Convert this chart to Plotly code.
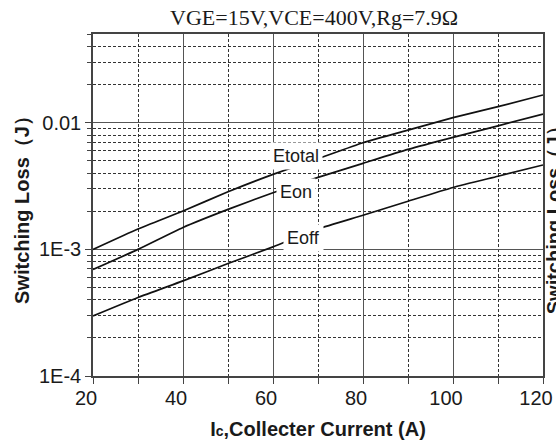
import plotly.graph_objects as go

# Collector current (A) and switching energies (J)
current = [20, 30, 40, 50, 60, 70, 80, 90, 100, 110, 120]
e_total = [1.0e-3, 1.45e-3, 2.01e-3, 2.85e-3, 3.91e-3, 5.2e-3, 6.95e-3, 8.75e-3, 1.096e-2, 1.34e-2, 1.656e-2]
e_on = [6.93e-4, 1.0e-3, 1.49e-3, 2.07e-3, 2.80e-3, 3.70e-3, 4.78e-3, 6.16e-3, 7.67e-3, 9.45e-3, 1.172e-2]
e_off = [2.98e-4, 4.17e-4, 5.64e-4, 7.73e-4, 1.047e-3, 1.45e-3, 1.86e-3, 2.40e-3, 3.08e-3, 3.78e-3, 4.64e-3]

x_major = [20, 40, 60, 80, 100, 120]
x_major_text = ["20", "40", "60", "80", "100", "120"]
x_minor = [30, 50, 70, 90, 110]
y_major = [1e-4, 1e-3, 1e-2]
y_major_text = ["1E-4", "1E-3", "0.01"]
y_minor = [m * d for d in (1e-4, 1e-3) for m in range(2, 10)] + [2e-2, 3e-2, 4e-2, 5e-2]

title_text = "VGE=15V,VCE=400V,Rg=7.9Ω"
x_title = "<b>I<span style='font-size:14px'>c</span>,Collecter Current (A)</b>"
y_title = "<b>Switching Loss（J）</b>"

SANS = "Liberation Sans, Arial, sans-serif"
SERIF = "Liberation Serif, Times New Roman, serif"
INK = "#1a1a1a"

fig = go.Figure()
for name, vals in (("Etotal", e_total), ("Eon", e_on), ("Eoff", e_off)):
    fig.add_trace(go.Scatter(
        x=current, y=vals, mode="lines", name=name,
        line=dict(color="#111111", width=1.7, shape="spline", smoothing=0.5),
        showlegend=False,
    ))

# curve labels sit on white boxes that interrupt the lines
labels = [("Etotal", 65.1, -2.263), ("Eon", 65.0, -2.548), ("Eoff", 66.7, -2.911)]
for txt, lx, ly in labels:
    fig.add_annotation(
        x=lx, y=ly, text=txt, showarrow=False,
        font=dict(family=SANS, size=18, color=INK),
        bgcolor="white", borderpad=3,
    )

fig.update_layout(
    width=556, height=443,
    margin=dict(l=93, r=13, t=34, b=67, autoexpand=False),
    paper_bgcolor="white", plot_bgcolor="white",
    title=dict(text=title_text, x=0.565, xanchor="center", y=0.962, yanchor="middle",
               font=dict(family=SERIF, size=22, color=INK)),
)

fig.update_xaxes(
    range=[20, 120], automargin=False,
    tickmode="array", tickvals=x_major, ticktext=x_major_text,
    tickfont=dict(family=SANS, size=20, color=INK),
    ticklabelshift=-7, ticklabelstandoff=-3, ticklabeloverflow="allow",
    ticks="outside", ticklen=6, tickcolor="#444444", tickwidth=1,
    showgrid=True, gridcolor="#555555", gridwidth=1,
    minor=dict(tickmode="array", tickvals=x_minor, ticks="outside", ticklen=6,
               tickcolor="#444444", showgrid=True, gridcolor="#333333",
               griddash="3px,2px", gridwidth=1),
    showline=True, linecolor="#444444", linewidth=1.5, mirror=True,
    zeroline=False,
    title=dict(text=x_title, font=dict(family=SANS, size=20, color=INK), standoff=14),
)

fig.update_yaxes(
    type="log", range=[-4, -1.2993], automargin=False,
    tickmode="array", tickvals=y_major, ticktext=y_major_text,
    tickfont=dict(family=SANS, size=20, color=INK),
    ticks="outside", ticklen=6, tickcolor="#444444", tickwidth=1,
    showgrid=True, gridcolor="#555555", gridwidth=1,
    minor=dict(tickmode="array", tickvals=y_minor, ticks="outside", ticklen=4,
               tickcolor="#444444", showgrid=True, gridcolor="#333333",
               griddash="3px,2px", gridwidth=1),
    showline=True, linecolor="#444444", linewidth=1.5, mirror=True,
    zeroline=False,
    title=dict(text=y_title, font=dict(family=SANS, size=20, color=INK), standoff=4),
)

# neighbouring panel's axis title, cut off at the right edge
fig.add_annotation(
    xref="paper", yref="paper", x=(567 - 93) / 450, y=0.47,
    text=y_title, textangle=-90, showarrow=False,
    font=dict(family=SANS, size=20, color=INK),
)

fig.write_html("out.html")
